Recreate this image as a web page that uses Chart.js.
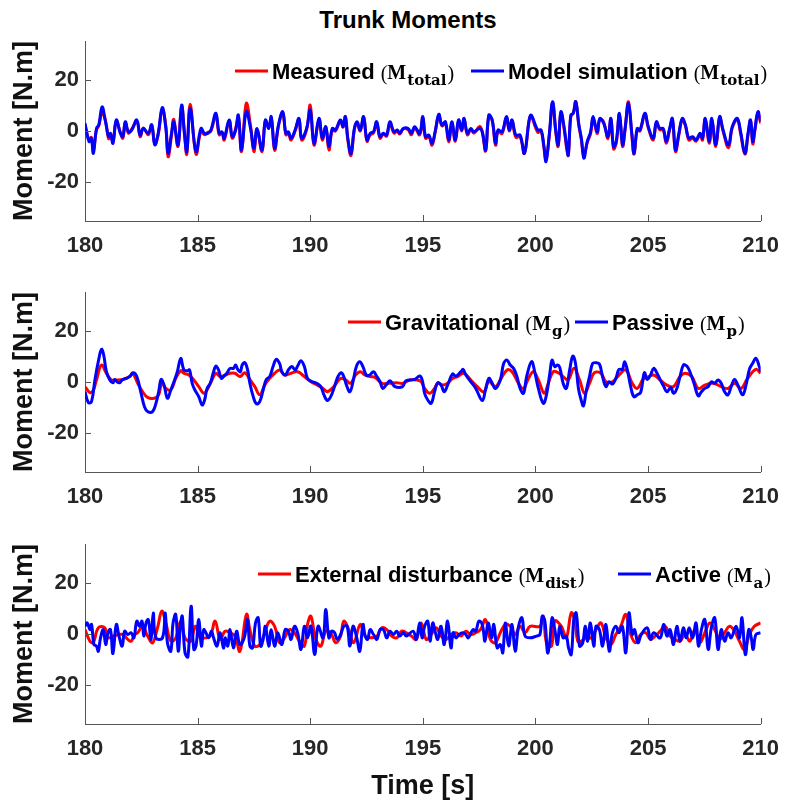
<!DOCTYPE html>
<html>
<head>
<meta charset="utf-8">
<script src="https://cdn.jsdelivr.net/npm/chart.js@4.4.0/dist/chart.umd.min.js"></script>
<style>
  body { margin: 0; background: #fff; width: 791px; height: 808px; position: relative; overflow: hidden; }
  canvas { position: absolute; left: 0; }
  #title { position: absolute; top: 8px; left: 0; width: 816px; text-align: center;
           font: bold 24px/24px "Liberation Sans", Arial, sans-serif; color: #000; }
</style>
</head>
<body>
<div id="title">Trunk Moments</div>
<canvas id="c1" width="791" height="265" style="top:0px"></canvas>
<canvas id="c2" width="791" height="250" style="top:265px"></canvas>
<canvas id="c3" width="791" height="293" style="top:515px"></canvas>
<script>
// axis ticks
const yTicks = [-20, 0, 20];
const xRange = [180, 210];

// --- panel 1 : total moment, measured vs model (same time base)
const p1Time = [
  180.00,180.18,180.28,180.37,180.51,180.61,180.76,180.91,181.05,181.13,
  181.24,181.39,181.57,181.68,181.79,181.93,182.08,182.30,182.45,182.59,
  182.81,182.96,183.10,183.25,183.43,183.59,183.69,183.84,183.94,184.13,
  184.29,184.42,184.52,184.67,184.93,185.15,185.30,185.45,185.59,185.81,
  185.96,186.08,186.18,186.40,186.54,186.69,186.81,186.95,187.16,187.35,
  187.50,187.64,187.86,188.01,188.16,188.27,188.42,188.59,188.78,188.92,
  189.03,189.15,189.33,189.50,189.62,189.84,190.00,190.17,190.39,190.54,
  190.69,190.83,190.98,191.12,191.34,191.46,191.56,191.67,191.81,191.96,
  192.08,192.22,192.37,192.52,192.66,192.81,192.95,193.10,193.25,193.39,
  193.54,193.72,193.86,193.98,194.13,194.35,194.49,194.64,194.86,195.00,
  195.12,195.27,195.41,195.56,195.71,195.85,196.00,196.15,196.29,196.44,
  196.59,196.73,196.83,196.98,197.13,197.27,197.52,197.64,197.79,197.93,
  198.08,198.23,198.34,198.52,198.71,198.84,198.96,199.13,199.32,199.51,
  199.72,199.81,200.10,200.25,200.37,200.47,200.62,200.76,200.91,201.01,
  201.13,201.27,201.39,201.46,201.57,201.68,201.79,201.93,202.04,202.15,
  202.30,202.45,202.56,202.74,202.86,203.03,203.22,203.35,203.47,203.59,
  203.73,203.87,203.98,204.13,204.28,204.38,204.52,204.64,204.86,205.01,
  205.23,205.37,205.52,205.67,205.81,205.96,206.08,206.22,206.37,206.52,
  206.66,206.81,206.98,207.13,207.31,207.42,207.54,207.72,207.83,208.01,
  208.18,208.33,208.57,208.74,208.96,209.11,209.30,209.44,209.55,209.65,
  209.74,209.88,210.00
];
const p1Model = [
  3.0,-4.1,-2.8,-8.7,1.0,2.3,9.4,3.6,-2.2,-0.9,
  -4.8,4.3,-0.9,-2.2,3.6,-0.3,0.4,4.3,-1.6,1.0,
  -0.9,2.3,-5.4,-0.9,9.1,1.0,-8.7,-0.9,3.6,-5.4,
  10.1,-1.6,-8.0,8.8,-8.0,1.0,-0.9,-0.9,0.4,6.9,
  -0.9,-0.3,-2.8,4.3,-2.2,0.4,6.2,-7.4,7.5,1.0,
  -6.7,1.0,-7.4,4.3,1.0,5.6,-6.7,2.3,7.5,-0.9,
  -0.3,-2.8,0.4,4.9,-2.8,1.0,8.2,-4.8,4.9,-2.8,
  1.7,-6.0,1.0,0.4,4.3,1.7,5.6,-2.8,-8.7,1.0,
  3.6,0.4,5.6,-3.5,-0.9,-0.3,3.6,-2.2,-0.9,-1.6,
  3.6,-0.3,0.4,-0.9,1.0,1.0,-0.9,1.7,-0.9,5.6,
  -2.2,-1.6,-4.8,0.4,6.5,2.3,3.6,-3.5,3.6,-3.5,
  4.3,0.4,4.9,-0.9,1.0,-0.3,1.0,-0.3,-7.4,6.2,
  4.3,-4.8,0.4,-0.3,5.6,0.4,4.3,-1.6,-1.6,-8.7,
  4.3,6.2,0.4,0.4,-5.4,-11.9,-0.9,11.4,-0.3,-5.4,
  7.5,1.7,-6.1,-9.3,6.2,6.9,11.4,2.3,-2.8,-10.6,
  -4.1,-0.3,5.6,-0.3,4.9,3.0,-2.2,4.9,-6.1,-4.1,
  6.9,-5.4,1.0,10.7,-0.9,-8.7,1.0,0.4,6.9,1.7,
  -2.8,3.6,1.0,1.0,-4.1,1.0,4.9,-7.4,-0.9,4.9,
  2.3,-2.8,-2.2,-3.5,-0.9,-2.8,4.9,-4.1,4.9,-5.4,
  5.6,0.4,-5.4,1.7,4.9,-0.3,-8.7,-0.9,4.3,-4.1,
  0.4,7.5,3.8
];
const p1Measured = [
  2.0,-3.5,-2.5,-7.5,0.5,2.0,7.0,4.0,-3.0,-1.2,
  -4.0,3.8,-0.5,-2.8,3.2,-0.8,0.8,3.8,-2.2,1.2,
  -1.5,2.5,-5.0,-1.5,8.5,2.0,-10.0,-2.0,4.5,-6.0,
  9.5,-1.0,-9.0,10.4,-9.0,0.0,-1.5,-0.5,0.0,6.0,
  -1.5,-0.5,-3.5,4.0,-2.8,1.0,5.5,-8.0,10.7,2.0,
  -8.0,0.5,-8.0,4.0,1.5,5.0,-7.5,2.0,7.0,-1.5,
  -1.0,-3.5,0.0,4.5,-3.5,0.5,10.0,-5.5,4.5,-3.5,
  1.5,-7.4,0.5,0.0,4.0,1.5,5.5,-3.5,-9.5,0.5,
  3.2,0.0,5.2,-4.0,-1.5,-0.8,3.2,-2.8,-1.2,-2.0,
  3.0,-0.8,0.0,-1.2,0.8,0.5,-1.5,1.2,-1.5,5.0,
  -2.8,-2.2,-5.5,0.0,6.0,2.0,3.0,-4.2,3.0,-4.0,
  4.0,0.0,4.5,-1.5,0.5,-0.8,1.8,-0.5,-7.8,5.8,
  4.0,-5.5,0.0,-1.0,5.2,0.0,4.0,-2.5,-2.2,-8.7,
  4.0,5.8,-0.5,0.0,-6.0,-11.0,-1.5,10.8,-1.0,-6.0,
  7.0,1.0,-7.0,-9.5,5.5,7.0,11.4,2.0,-3.5,-9.5,
  -4.5,-1.0,5.0,-1.0,4.5,3.5,-3.0,4.5,-7.0,-4.5,
  6.5,-6.0,0.5,11.4,-1.5,-9.0,0.5,0.0,6.5,1.2,
  -3.5,3.2,0.5,0.5,-4.8,0.5,4.5,-8.0,-1.5,4.5,
  2.0,-3.5,-2.8,-4.0,-1.5,-3.5,4.5,-4.8,4.5,-6.0,
  5.2,0.0,-6.5,1.2,4.5,-1.0,-9.0,-1.5,4.0,-5.0,
  0.0,7.0,3.0
];

// --- panel 2 : gravitational and passive moments
const p2GravTime = [
  180.00,180.22,180.37,180.51,180.73,180.95,181.17,181.39,181.68,181.98,
  182.12,182.34,182.56,182.78,183.07,183.27,183.41,183.59,183.81,184.03,
  184.25,184.39,184.61,184.83,185.05,185.27,185.42,185.64,185.81,186.00,
  186.22,186.44,186.66,186.88,187.10,187.32,187.54,187.76,187.98,188.20,
  188.42,188.64,188.86,189.15,189.44,189.74,190.03,190.32,190.61,190.76,
  191.05,191.35,191.57,191.79,192.01,192.22,192.44,192.66,192.88,193.18,
  193.47,193.84,194.13,194.42,194.71,194.93,195.08,195.30,195.52,195.66,
  195.88,196.10,196.32,196.54,196.83,197.13,197.42,197.71,197.93,198.22,
  198.44,198.74,198.96,199.25,199.47,199.69,199.91,200.13,200.39,200.57,
  200.79,201.01,201.23,201.45,201.71,201.96,202.18,202.40,202.62,202.91,
  203.13,203.42,203.71,204.01,204.30,204.52,204.81,205.03,205.25,205.54,
  205.84,206.13,206.42,206.64,206.94,207.23,207.52,207.89,208.25,208.55,
  208.84,209.13,209.42,209.79,210.00
];
const p2Grav = [
  -1.8,-4.1,-3.1,0.8,6.6,3.4,0.8,0.8,1.0,2.1,
  3.4,-0.5,-3.8,-6.0,-6.3,-5.0,-0.5,-2.5,-3.1,1.4,
  4.4,3.4,2.7,0.8,-1.8,-4.4,-3.1,0.8,3.4,2.1,
  2.7,3.4,3.4,2.1,3.6,1.0,-1.8,-5.0,-1.2,1.4,
  3.4,4.7,2.7,3.4,4.0,2.1,0.1,-1.2,-2.8,-3.8,
  -1.8,1.4,0.8,-0.5,2.7,4.0,2.7,2.1,1.8,-0.5,
  -0.5,-0.3,-0.5,0.8,0.8,0.1,-2.5,-4.4,-2.5,-0.5,
  -1.2,-0.5,1.4,2.1,3.4,0.8,-1.8,-3.8,0.1,-1.8,
  0.8,4.7,4.0,-0.5,-2.5,1.4,4.0,0.8,-4.4,-0.5,
  4.0,3.6,2.1,0.8,5.3,0.8,-4.4,-0.5,3.6,3.4,
  0.1,0.1,2.7,4.7,-0.5,-2.5,1.4,2.1,2.7,0.8,
  -1.2,-1.8,2.1,3.4,2.1,-2.5,-1.2,-0.5,-1.8,-2.5,
  -0.5,-2.5,1.4,4.9,3.4
];
const p2PassTime = [
  180.00,180.15,180.29,180.44,180.59,180.73,180.83,180.95,181.10,181.24,
  181.32,181.42,181.54,181.65,181.83,181.98,182.15,182.30,182.49,182.64,
  182.78,183.00,183.15,183.27,183.38,183.51,183.66,183.81,183.95,184.10,
  184.25,184.39,184.54,184.64,184.76,184.88,185.05,185.20,185.31,185.42,
  185.56,185.71,185.81,185.93,186.05,186.15,186.30,186.44,186.59,186.69,
  186.78,186.90,186.98,187.10,187.22,187.32,187.47,187.61,187.76,187.91,
  188.05,188.20,188.35,188.49,188.64,188.74,188.89,189.03,189.18,189.33,
  189.44,189.59,189.74,189.88,190.10,190.29,190.47,190.61,190.76,190.91,
  191.05,191.23,191.38,191.49,191.61,191.76,191.90,192.05,192.20,192.34,
  192.49,192.64,192.81,192.96,193.10,193.22,193.37,193.54,193.76,194.10,
  194.25,194.64,194.86,194.97,195.08,195.22,195.37,195.52,195.66,195.81,
  195.95,196.10,196.32,196.47,196.69,196.79,196.91,197.13,197.35,197.64,
  197.78,197.93,198.05,198.22,198.44,198.59,198.74,198.88,199.03,199.18,
  199.32,199.47,199.61,199.83,199.98,200.13,200.35,200.49,200.64,200.74,
  200.86,200.98,201.08,201.23,201.37,201.52,201.66,201.78,201.91,202.03,
  202.13,202.25,202.40,202.54,202.69,202.84,202.98,203.13,203.27,203.42,
  203.57,203.71,203.86,203.96,204.08,204.23,204.37,204.52,204.67,204.84,
  204.96,205.11,205.25,205.40,205.54,205.69,205.84,206.01,206.13,206.28,
  206.42,206.57,206.72,206.86,207.04,207.23,207.37,207.52,207.67,207.81,
  207.96,208.11,208.25,208.40,208.55,208.69,208.84,208.99,209.20,209.35,
  209.50,209.64,209.79,209.94,210.00
];
const p2Pass = [
  -3.8,-8.0,-7.6,0.8,7.9,12.7,10.5,4.0,0.8,-0.3,
  1.0,0.1,-0.3,0.8,1.4,2.1,3.6,2.1,-4.4,-9.6,
  -11.5,-11.5,-8.3,-3.8,1.0,-1.2,-6.3,-3.1,0.1,4.0,
  9.2,4.7,4.4,4.7,-0.5,-3.1,-5.7,-8.9,-7.0,-2.5,
  -0.5,4.0,6.2,4.7,1.4,2.1,3.4,5.3,5.3,6.6,
  4.9,4.0,6.6,7.5,4.7,-0.5,-5.7,-8.5,-7.6,-3.1,
  1.0,2.1,6.0,8.8,7.2,4.0,2.7,4.7,6.0,4.7,
  6.2,8.3,6.0,1.4,0.1,-0.5,-1.8,-5.0,-7.2,-5.7,
  -2.5,2.1,3.6,2.1,-1.2,-3.8,0.1,6.0,7.9,6.0,
  2.7,2.7,4.0,2.1,0.1,-2.5,-1.2,0.5,-1.8,-1.8,
  0.5,1.0,2.3,0.8,-4.4,-7.0,-8.3,-3.8,-0.3,-1.2,
  -3.8,-1.2,3.1,2.3,4.0,4.9,2.7,0.1,-2.5,-7.2,
  -3.1,1.4,0.1,-2.5,0.8,7.2,8.5,6.6,5.3,2.1,
  -2.5,-4.4,2.1,7.9,3.4,-2.5,-8.3,-5.0,3.4,8.5,
  6.0,6.6,5.7,-0.5,-2.5,4.7,10.1,7.2,-2.5,-7.0,
  -9.3,-3.8,2.1,7.2,7.5,7.0,2.1,-1.8,0.1,-0.8,
  1.4,4.9,4.9,7.9,4.7,-1.8,-5.7,-5.0,-4.1,3.6,
  1.0,2.7,5.3,3.4,0.8,-1.6,-3.8,-2.1,-4.4,-2.5,
  2.1,6.6,6.2,4.0,-0.5,-5.4,-3.8,-2.5,-1.8,0.1,
  -0.5,0.8,-0.5,-3.8,-5.0,-1.8,1.0,-1.2,-5.0,-1.2,
  4.9,7.2,9.2,6.0,4.0
];

// --- panel 3 : external disturbance and active moments
const p3DistTime = [
  180.00,180.22,180.37,180.59,180.88,181.02,181.24,181.68,181.90,182.05,
  182.20,182.34,182.56,182.78,183.00,183.22,183.41,183.59,183.81,184.03,
  184.25,184.44,184.69,184.90,185.12,185.34,185.56,185.78,186.00,186.22,
  186.44,186.66,186.88,187.17,187.32,187.54,187.76,187.98,188.20,188.42,
  188.64,188.86,189.08,189.30,189.52,189.74,189.88,190.03,190.25,190.47,
  190.69,190.91,191.13,191.35,191.49,191.71,191.93,192.22,192.44,192.66,
  192.96,193.18,193.40,193.62,193.84,194.06,194.27,194.49,194.71,194.93,
  195.15,195.37,195.59,195.81,196.03,196.25,196.47,196.69,196.91,197.13,
  197.35,197.56,197.78,198.00,198.22,198.44,198.66,198.88,199.10,199.32,
  199.54,199.76,200.20,200.35,200.49,200.71,200.86,201.15,201.37,201.59,
  201.74,201.88,202.03,202.25,202.47,202.69,202.91,203.13,203.35,203.57,
  203.79,204.01,204.23,204.45,204.67,204.89,205.11,205.32,205.54,205.76,
  205.98,206.20,206.42,206.64,206.86,207.08,207.30,207.52,207.74,207.96,
  208.18,208.40,208.62,208.84,209.06,209.28,209.50,209.72,210.00
];
const p3Dist = [
  1.7,-2.8,-3.4,2.4,2.4,-1.5,-0.8,-0.2,-2.1,-2.8,
  -0.2,0.5,3.0,-0.8,-3.4,2.4,8.9,4.3,-2.8,-1.5,
  5.0,-1.5,-2.8,3.0,-1.5,-1.5,-0.8,5.0,-2.1,1.1,
  0.5,-0.8,-6.7,7.6,1.7,-4.7,-4.1,0.5,5.0,3.0,
  -3.4,-1.5,1.7,0.5,-2.8,-4.7,3.7,6.9,-2.1,-4.7,
  1.1,0.5,-3.4,-0.8,5.0,1.7,-3.4,3.7,-0.8,-1.5,
  -0.8,2.4,1.7,-0.8,-1.5,1.1,0.5,-0.8,-2.1,4.3,
  -2.1,-0.2,2.4,-0.8,-2.1,-0.2,0.5,-0.8,1.1,-0.2,
  0.5,1.7,5.6,-2.1,-3.4,0.5,3.7,3.0,-0.2,3.0,
  0.5,3.0,3.0,6.9,-3.4,-4.7,5.0,3.0,-1.5,8.2,
  5.6,-2.8,-2.8,-1.5,-1.5,1.7,4.3,-1.5,-4.1,-0.2,
  3.0,7.6,-0.2,-3.4,-0.2,0.5,-2.1,-0.8,1.1,3.0,
  -0.8,-2.1,-2.8,-0.2,-2.8,1.7,-3.4,0.5,4.3,1.7,
  -2.1,0.5,3.0,1.1,-2.8,-6.0,-0.2,3.0,4.3
];
const p3ActTime = [
  180.00,180.10,180.22,180.29,180.40,180.51,180.59,180.69,180.81,180.92,
  181.02,181.13,181.24,181.39,181.51,181.65,181.76,181.90,182.05,182.17,
  182.30,182.42,182.53,182.61,182.71,182.81,182.93,183.03,183.15,183.44,
  183.56,183.66,183.81,183.91,184.03,184.14,184.25,184.32,184.44,184.57,
  184.71,184.83,184.93,185.05,185.17,185.27,185.37,185.49,185.61,185.71,
  185.86,186.00,186.15,186.22,186.34,186.44,186.59,186.73,186.88,187.07,
  187.22,187.32,187.44,187.57,187.69,187.80,187.91,188.01,188.16,188.27,
  188.42,188.56,188.74,188.89,189.03,189.15,189.30,189.44,189.59,189.74,
  189.88,190.03,190.20,190.35,190.57,190.69,190.83,190.95,191.08,191.20,
  191.35,191.49,191.64,191.76,191.90,192.05,192.20,192.34,192.44,192.55,
  192.66,192.81,192.96,193.10,193.25,193.40,193.54,193.69,193.84,193.98,
  194.13,194.27,194.57,194.71,194.86,194.97,195.08,195.22,195.32,195.44,
  195.56,195.66,195.81,195.95,196.10,196.25,196.35,196.47,196.61,196.76,
  196.91,197.02,197.23,197.35,197.49,197.64,197.76,197.90,198.05,198.15,
  198.30,198.44,198.55,198.66,198.81,198.96,199.10,199.25,199.40,199.54,
  199.76,200.05,200.20,200.30,200.42,200.54,200.64,200.74,200.86,200.98,
  201.08,201.23,201.37,201.47,201.59,201.71,201.81,201.96,202.10,202.21,
  202.32,202.44,202.59,202.69,202.84,202.98,203.13,203.28,203.42,203.57,
  203.71,203.86,204.01,204.15,204.30,204.40,204.55,204.70,204.96,205.11,
  205.25,205.54,205.69,205.84,205.98,206.13,206.28,206.42,206.57,206.69,
  206.83,206.98,207.13,207.24,207.37,207.52,207.67,207.81,207.96,208.11,
  208.25,208.40,208.55,208.69,208.91,209.06,209.17,209.32,209.47,209.57,
  209.67,209.79,210.00
];
const p3Act = [
  3.0,4.3,1.7,3.7,-4.1,-4.7,-6.7,-1.5,1.7,-4.1,
  0.5,1.7,-7.6,3.7,-0.8,-4.7,1.1,-0.2,0.5,-1.5,
  5.0,3.0,5.0,-0.8,4.3,5.6,-2.1,8.2,-1.5,-1.5,
  8.2,-3.4,-6.7,4.3,7.6,-6.7,4.3,6.9,-7.3,-8.9,
  10.8,-6.0,-4.7,5.6,-4.7,1.7,0.5,-1.5,1.1,-1.5,
  -4.7,0.5,-5.4,-1.5,-4.7,1.7,-5.4,1.1,-4.1,-1.5,
  5.6,-4.7,-5.4,4.3,6.3,-4.7,-2.1,3.0,-4.7,1.7,
  -4.7,0.5,-4.1,1.7,1.1,-2.1,3.0,0.5,-6.0,3.0,
  -1.5,3.0,-8.0,3.0,-1.5,9.5,-1.5,1.1,0.5,-2.1,
  -0.2,3.0,3.0,-4.7,3.0,-0.8,-6.7,3.7,-0.8,-2.1,
  1.7,-0.2,-2.1,1.7,1.7,-1.5,1.1,-0.2,1.1,-0.8,
  0.5,-0.8,1.1,-2.1,4.3,-1.5,3.0,5.0,-2.8,4.3,
  0.5,-2.1,3.0,-4.1,5.0,-5.4,0.5,-1.5,-0.2,0.5,
  -0.2,-1.5,1.7,1.1,5.0,3.7,-2.8,4.3,-1.5,3.7,
  -5.4,-4.1,-7.3,4.3,-4.7,3.7,-6.7,3.0,6.3,-0.8,
  -1.5,-0.8,-0.2,6.9,5.0,-7.3,-2.8,6.3,1.7,-4.1,
  3.0,-1.5,-0.8,-5.4,-8.0,6.3,8.2,-4.7,-3.4,3.0,
  -2.8,4.3,-4.7,3.0,1.7,-4.7,3.7,-6.7,0.5,3.0,
  0.5,3.0,-7.3,8.2,-0.2,1.7,-3.4,-0.2,2.4,-2.1,
  0.5,-1.5,3.7,-0.8,1.7,-4.1,3.0,-2.8,2.4,-1.5,
  2.4,-1.5,4.3,-4.7,1.7,5.6,-6.0,2.4,6.3,-6.0,
  1.7,-2.8,0.5,-1.5,3.0,-1.5,6.3,-8.0,1.7,-0.8,
  -6.0,-0.2,0.5
];

const RED = '#ff0000';
const BLUE = '#0000ff';
const AXIS = '#555555';
Chart.defaults.font.family = '"Liberation Sans", Arial, sans-serif';

const toXY = (t, v) => t.map((x, i) => ({ x: x, y: v[i] }));

// MATLAB style: tick marks point into the axes
const inwardTicks = {
  id: 'inwardTicks',
  afterDraw(chart) {
    const { ctx, chartArea: a, scales: { x, y } } = chart;
    ctx.save();
    ctx.strokeStyle = AXIS;
    ctx.lineWidth = 1;
    ctx.beginPath();
    x.ticks.forEach(t => {
      const px = Math.round(x.getPixelForValue(t.value)) + 0.5;
      ctx.moveTo(px, a.bottom);
      ctx.lineTo(px, a.bottom - 6);
    });
    y.ticks.forEach(t => {
      const py = Math.round(y.getPixelForValue(t.value)) + 0.5;
      ctx.moveTo(a.left, py);
      ctx.lineTo(a.left + 6, py);
    });
    ctx.stroke();
    ctx.restore();
  }
};

// legend: line sample, bold label, then (M_sub) in a serif math face.
// each entry starts at its own x (where its line sample begins)
const LABEL_FONT = 'bold 22px "Liberation Sans"';
const PAREN_FONT = '20px "Liberation Serif"';
const M_FONT = 'bold 20px "Liberation Serif"';
const SUB_FONT = 'bold 15px "DejaVu Serif"';

const mathLegend = {
  id: 'mathLegend',
  afterDraw(chart, args, opts) {
    const ctx = chart.ctx;
    const base = chart.chartArea.top + opts.dy;
    ctx.save();
    ctx.textBaseline = 'alphabetic';
    ctx.fillStyle = '#000';
    opts.items.forEach(item => {
      let x = item.x;
      ctx.strokeStyle = item.color;
      ctx.lineWidth = 3;
      ctx.beginPath();
      ctx.moveTo(x, base - 8);
      ctx.lineTo(x + 33, base - 8);
      ctx.stroke();
      x += 37;
      const put = (s, font, dy, gap) => {
        ctx.font = font;
        ctx.fillText(s, x, base + dy);
        x += ctx.measureText(s).width + gap;
      };
      put(item.label, LABEL_FONT, 0, 6);
      put('(', PAREN_FONT, 1, 0);
      put('M', M_FONT, 0, 1);
      put(item.sub, SUB_FONT, 6, 1);
      put(')', PAREN_FONT, 1, 0);
    });
    ctx.restore();
  }
};

function makePanel(id, cfg) {
  return new Chart(document.getElementById(id), {
    type: 'line',
    data: {
      datasets: [
        { data: toXY(cfg.blueT, cfg.blueV), borderColor: BLUE, order: 0 },
        { data: toXY(cfg.redT, cfg.redV), borderColor: RED, order: 1 }
      ]
    },
    options: {
      responsive: false,
      animation: false,
      events: [],
      layout: { padding: { left: 0, right: 23, top: cfg.padTop, bottom: 0 } },
      elements: {
        point: { radius: 0 },
        line: { borderWidth: 3, tension: 0.4 }
      },
      plugins: {
        legend: { display: false },
        tooltip: { enabled: false },
        mathLegend: { dy: 38, items: cfg.legend }
      },
      scales: {
        x: {
          type: 'linear',
          min: xRange[0],
          max: xRange[1],
          grid: { display: false, drawTicks: false },
          border: { display: true, color: AXIS, width: 1 },
          ticks: { stepSize: 5, padding: 12, maxRotation: 0, color: '#262626', font: { size: 22, weight: 'bold' } },
          title: {
            display: !!cfg.xTitle,
            text: cfg.xTitle || '',
            color: '#111',
            font: { size: 27, weight: 'bold' },
            padding: { top: 0, bottom: 5 }
          },
          afterFit: s => { s.height = cfg.xHeight; }
        },
        y: {
          min: -35,
          max: 35,
          grid: { display: false, drawTicks: false },
          border: { display: true, color: AXIS, width: 1 },
          afterBuildTicks: s => { s.ticks = yTicks.map(v => ({ value: v })); },
          ticks: { padding: 6, color: '#262626', font: { size: 22, weight: 'bold' } },
          title: {
            display: true,
            text: 'Moment [N.m]',
            color: '#111',
            font: { size: 27, weight: 'bold' },
            padding: { top: 8, bottom: 0 }
          },
          afterFit: s => { s.width = 85; }
        }
      }
    },
    plugins: [inwardTicks, mathLegend]
  });
}

makePanel('c1', {
  blueT: p1Time, blueV: p1Model, redT: p1Time, redV: p1Measured,
  padTop: 41, xHeight: 44,
  legend: [
    { label: 'Measured', sub: 'total', color: RED, x: 235 },
    { label: 'Model simulation', sub: 'total', color: BLUE, x: 471 }
  ]
});

makePanel('c2', {
  blueT: p2PassTime, blueV: p2Pass, redT: p2GravTime, redV: p2Grav,
  padTop: 27, xHeight: 43,
  legend: [
    { label: 'Gravitational', sub: 'g', color: RED, x: 348 },
    { label: 'Passive', sub: 'p', color: BLUE, x: 575 }
  ]
});

makePanel('c3', {
  blueT: p3ActTime, blueV: p3Act, redT: p3DistTime, redV: p3Dist,
  padTop: 29, xHeight: 84, xTitle: 'Time [s]',
  legend: [
    { label: 'External disturbance', sub: 'dist', color: RED, x: 258 },
    { label: 'Active', sub: 'a', color: BLUE, x: 618 }
  ]
});
</script>
</body>
</html>
